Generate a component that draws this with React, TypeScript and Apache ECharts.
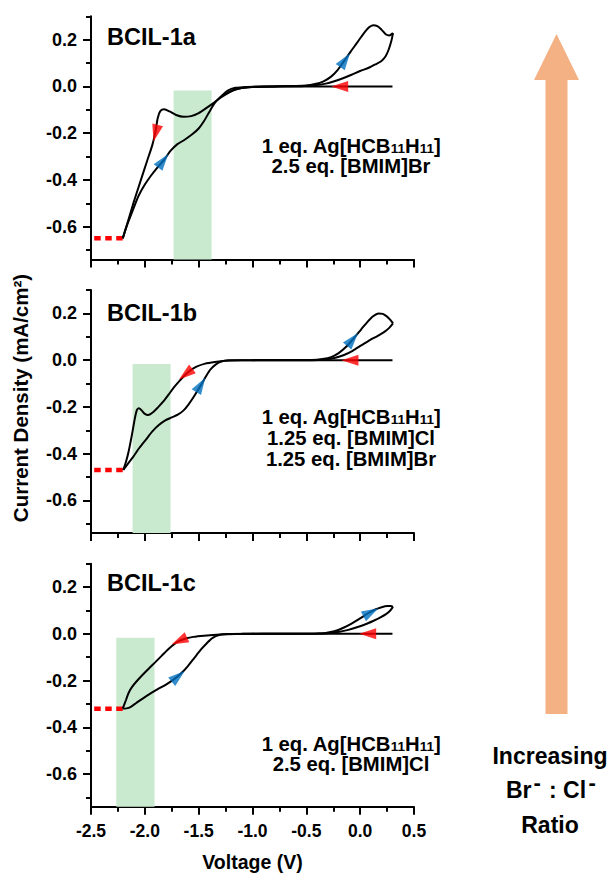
import React, { useEffect, useRef } from 'react';
import * as echarts from 'echarts';

const FONT = '"Liberation Sans", Arial, Helvetica, sans-serif';

// ---------- axes ----------
const X_MIN = -2.5;
const X_MAX = 0.5;
const X_STEP = 0.5;
const Y_MIN = -0.74;
const Y_MAX = 0.3;
const Y_LABEL_VALUES = [-0.6, -0.4, -0.2, 0, 0.2];
const Y_MINOR_VALUES = [-0.7, -0.5, -0.3, -0.1, 0.1, 0.3];

// ---------- panel texts ----------
const panelNames = ['BCIL-1a', 'BCIL-1b', 'BCIL-1c'];
const compositionLines = [
  ['2.5 eq. [BMIM]Br'],
  ['1.25 eq. [BMIM]Cl', '1.25 eq. [BMIM]Br'],
  ['2.5 eq. [BMIM]Cl'],
];

// ---------- BCIL-1a ----------
const cathodic1a = [
  [0.3, 0], [-0.2, 0], [-0.6, 0], [-0.9, -0.001], [-1.05, -0.004], [-1.15, -0.012], [-1.22, -0.026],
  [-1.29, -0.046], [-1.35, -0.067], [-1.43, -0.093], [-1.5, -0.114], [-1.57, -0.127], [-1.64, -0.13],
  [-1.71, -0.122], [-1.77, -0.107], [-1.82, -0.098], [-1.855, -0.105], [-1.88, -0.135], [-1.9, -0.19],
  [-1.93, -0.25], [-1.98, -0.32], [-2.04, -0.405], [-2.1, -0.49], [-2.155, -0.575], [-2.205, -0.65],
];
const anodic1a = [
  [-2.205, -0.65], [-2.17, -0.6], [-2.12, -0.54], [-2.06, -0.47], [-2.0, -0.42], [-1.94, -0.38],
  [-1.88, -0.345], [-1.82, -0.313], [-1.76, -0.275], [-1.7, -0.248], [-1.63, -0.228], [-1.56, -0.205],
  [-1.5, -0.18], [-1.45, -0.148], [-1.4, -0.108], [-1.35, -0.07], [-1.29, -0.042], [-1.23, -0.018],
  [-1.16, -0.006], [-1.05, -0.002], [-0.8, 0], [-0.5, 0.004], [-0.42, 0.01], [-0.34, 0.022],
  [-0.27, 0.042], [-0.21, 0.07], [-0.15, 0.108], [-0.09, 0.148], [-0.03, 0.186], [0.03, 0.225],
  [0.08, 0.252], [0.12, 0.262], [0.16, 0.258], [0.2, 0.242], [0.24, 0.222], [0.27, 0.218], [0.305, 0.228],
];
const return1a = [
  [0.305, 0.228], [0.29, 0.195], [0.265, 0.158], [0.235, 0.128], [0.195, 0.108], [0.14, 0.094],
  [0.08, 0.08], [0.0, 0.066], [-0.08, 0.05], [-0.16, 0.035], [-0.24, 0.022], [-0.32, 0.012],
  [-0.42, 0.005], [-0.55, 0.001], [-0.8, 0], [-1.0, -0.002], [-1.1, -0.007], [-1.18, -0.016], [-1.25, -0.033],
];

// ---------- BCIL-1b ----------
const cathodic1b = [
  [0.3, 0], [-0.3, 0], [-0.8, 0], [-1.1, -0.001], [-1.25, -0.003], [-1.35, -0.008], [-1.44, -0.015],
  [-1.52, -0.028], [-1.58, -0.045], [-1.63, -0.066], [-1.68, -0.09], [-1.73, -0.117], [-1.78, -0.148],
  [-1.83, -0.178], [-1.88, -0.203], [-1.93, -0.225], [-1.97, -0.235], [-2.0, -0.23], [-2.03, -0.215],
  [-2.055, -0.206], [-2.075, -0.215], [-2.095, -0.255], [-2.12, -0.32], [-2.15, -0.39], [-2.175, -0.435],
  [-2.2, -0.47],
];
const anodic1b = [
  [-2.2, -0.47], [-2.16, -0.445], [-2.11, -0.415], [-2.05, -0.375], [-1.99, -0.34], [-1.93, -0.305],
  [-1.87, -0.278], [-1.81, -0.258], [-1.75, -0.245], [-1.69, -0.232], [-1.64, -0.215], [-1.595, -0.19],
  [-1.55, -0.16], [-1.51, -0.13], [-1.47, -0.1], [-1.43, -0.068], [-1.39, -0.04], [-1.34, -0.018],
  [-1.29, -0.006], [-1.22, -0.001], [-1.0, 0], [-0.45, 0.001], [-0.35, 0.005], [-0.27, 0.013],
  [-0.2, 0.03], [-0.13, 0.057], [-0.06, 0.093], [0.01, 0.132], [0.07, 0.165], [0.12, 0.188],
  [0.17, 0.2], [0.21, 0.198], [0.25, 0.186], [0.28, 0.172], [0.305, 0.157],
];
const return1b = [
  [0.305, 0.157], [0.27, 0.138], [0.225, 0.121], [0.16, 0.103], [0.09, 0.086], [0.01, 0.063],
  [-0.07, 0.04], [-0.15, 0.022], [-0.23, 0.01], [-0.32, 0.003], [-0.45, 0], [-0.7, 0], [-1.0, 0],
];

// ---------- BCIL-1c ----------
const cathodic1c = [
  [0.3, 0], [-0.4, 0], [-0.9, 0], [-1.15, -0.001], [-1.3, -0.003], [-1.45, -0.008], [-1.55, -0.013],
  [-1.62, -0.02], [-1.68, -0.03], [-1.73, -0.045], [-1.78, -0.065], [-1.84, -0.092], [-1.9, -0.12],
  [-1.96, -0.147], [-2.02, -0.175], [-2.08, -0.205], [-2.12, -0.228], [-2.15, -0.252], [-2.175, -0.283],
  [-2.205, -0.32],
];
const anodic1c = [
  [-2.205, -0.32], [-2.17, -0.319], [-2.13, -0.312], [-2.08, -0.296], [-2.02, -0.277], [-1.95, -0.256],
  [-1.88, -0.237], [-1.8, -0.216], [-1.73, -0.195], [-1.66, -0.168], [-1.6, -0.138], [-1.54, -0.103],
  [-1.48, -0.068], [-1.42, -0.038], [-1.37, -0.017], [-1.31, -0.005], [-1.23, -0.001], [-1.0, 0],
  [-0.4, 0.001], [-0.32, 0.004], [-0.24, 0.011], [-0.16, 0.025], [-0.08, 0.044], [0.0, 0.066],
  [0.07, 0.087], [0.14, 0.104], [0.2, 0.114], [0.25, 0.119], [0.285, 0.119], [0.305, 0.115],
];
const return1c = [
  [0.305, 0.115], [0.28, 0.1], [0.24, 0.084], [0.18, 0.068], [0.12, 0.055], [0.05, 0.041],
  [-0.03, 0.028], [-0.11, 0.017], [-0.19, 0.009], [-0.28, 0.004], [-0.38, 0.001], [-0.5, 0],
  [-0.8, 0], [-1.1, 0],
];

const curves = [
  [cathodic1a, anodic1a, return1a],
  [cathodic1b, anodic1b, return1b],
  [cathodic1c, anodic1c, return1c],
];

// switching point (dotted red guide) per panel: [start V, end V, current]
const switchGuides = [
  [-2.47, -2.205, -0.65],
  [-2.47, -2.2, -0.47],
  [-2.47, -2.205, -0.32],
];

// shaded green bands: [V start, V end, upper current]
const greenBands = [
  [-1.733, -1.38, -0.017],
  [-2.114, -1.761, -0.017],
  [-2.265, -1.91, -0.017],
];

// direction arrows on the curves: [V, I, direction angle in degrees]
const redArrows = [
  [[-0.19, 0, 180], [-1.9, -0.2, 256]],
  [[-0.095, 0, 180], [-1.62, -0.06, 218]],
  [[0.07, 0, 180], [-1.68, -0.03, 205]],
];
const blueArrows = [
  [[-1.83, -0.318, 53], [-0.14, 0.112, 55]],
  [[-1.48, -0.106, 58], [-0.07, 0.088, 50]],
  [[-1.69, -0.182, 40], [0.1, 0.092, 28]],
];

// ---------- layout ----------
const GRID_LEFT = 91;
const GRID_WIDTH = 323;
const GRID_TOPS = [16.3, 290, 563.7];
const GRID_HEIGHT = 243.1;

const axisColor = '#000';

function buildOption() {
  const grids = GRID_TOPS.map((t) => ({
    left: GRID_LEFT,
    top: t,
    width: GRID_WIDTH,
    height: GRID_HEIGHT,
    containLabel: false,
    outerBoundsMode: 'none',
  }));

  const xAxes = GRID_TOPS.map((_, i) => ({
    gridIndex: i,
    type: 'value',
    min: X_MIN,
    max: X_MAX,
    interval: X_STEP,
    axisLine: { show: true, onZero: false, lineStyle: { color: axisColor, width: 2 } },
    axisTick: { show: true, inside: false, length: 8, lineStyle: { color: axisColor, width: 2 } },
    minorTick: { show: true, splitNumber: 2, length: 5, lineStyle: { color: axisColor, width: 2 } },
    splitLine: { show: false },
    minorSplitLine: { show: false },
    axisLabel: {
      show: i === 2,
      margin: 15,
      color: '#000',
      fontSize: 17.5,
      fontWeight: 'bold',
      fontFamily: FONT,
      formatter: (v: number) => v.toFixed(1),
    },
  }));

  const yAxes: any[] = [];
  GRID_TOPS.forEach((_, i) => {
    yAxes.push({
      gridIndex: i,
      type: 'value',
      position: 'left',
      min: Y_MIN,
      max: Y_MAX,
      axisLine: { show: true, onZero: false, lineStyle: { color: axisColor, width: 2 } },
      axisTick: { show: true, length: 8, customValues: Y_LABEL_VALUES, lineStyle: { color: axisColor, width: 2 } },
      axisLabel: {
        customValues: Y_LABEL_VALUES,
        margin: 14,
        color: '#000',
        fontSize: 18,
        fontWeight: 'bold',
        fontFamily: FONT,
        formatter: (v: number) => v.toFixed(1),
      },
      splitLine: { show: false },
    });
    yAxes.push({
      gridIndex: i,
      type: 'value',
      position: 'left',
      min: Y_MIN,
      max: Y_MAX,
      axisLine: { show: false, onZero: false },
      axisTick: { show: true, length: 5, customValues: Y_MINOR_VALUES, lineStyle: { color: axisColor, width: 2 } },
      axisLabel: { show: false },
      splitLine: { show: false },
    });
  });

  const series: any[] = [];
  curves.forEach((segs, i) => {
    const [gs, ge, gt] = greenBands[i];
    const [ds, de, di] = switchGuides[i];
    series.push({
      type: 'line',
      xAxisIndex: i,
      yAxisIndex: 2 * i,
      data: [[ds, di], [de, di]],
      symbol: 'none',
      z: 2,
      lineStyle: { color: '#ff0000', width: 4.5, type: [6.5, 4.5] },
      markArea: {
        silent: true,
        z: 1,
        itemStyle: { color: '#c9eacf' },
        data: [[{ coord: [gs, gt] }, { coord: [ge, Y_MIN] }]],
      },
    });
    segs.forEach((seg) => {
      series.push({
        type: 'line',
        xAxisIndex: i,
        yAxisIndex: 2 * i,
        data: seg,
        symbol: 'none',
        smooth: 0.25,
        z: 3,
        lineStyle: { color: '#000', width: 2 },
      });
    });
    series.push({
      type: 'scatter',
      xAxisIndex: i,
      yAxisIndex: 2 * i,
      symbol: 'triangle',
      symbolSize: [11, 17],
      z: 4,
      itemStyle: { color: '#ff0000' },
      data: redArrows[i].map((a) => ({ value: [a[0], a[1]], symbolRotate: a[2] - 90 })),
    });
    series.push({
      type: 'scatter',
      xAxisIndex: i,
      yAxisIndex: 2 * i,
      symbol: 'triangle',
      symbolSize: [11, 17],
      z: 4,
      itemStyle: { color: '#0070c0' },
      data: blueArrows[i].map((a) => ({ value: [a[0], a[1]], symbolRotate: a[2] - 90 })),
    });
  });

  const textBase = (fontSize: number) => ({
    fontSize,
    fontWeight: 'bold',
    fontFamily: FONT,
    fill: '#000',
  });
  const txt = (x: number, y: number, text: string, size: number, align = 'center', extra: any = {}) => ({
    type: 'text',
    x,
    y,
    ...extra,
    style: { ...textBase(size), text, align, verticalAlign: 'middle', textAlign: align, textVerticalAlign: 'middle' },
  });

  const panelLabelY = [36.7, 312.7, 582.7];
  const annotationY = [156, 438, 754];

  const graphics: any[] = [];
  panelNames.forEach((name, i) => {
    graphics.push(txt(107, panelLabelY[i], name, 23.5, 'left'));
    const firstLine = '{m|1 eq. Ag[HCB}{s|11}{m|H}{s|11}{m|]}';
    const rest = compositionLines[i].map((l) => `{m|${l}}`);
    graphics.push({
      type: 'text',
      x: 351,
      y: annotationY[i],
      style: {
        text: [firstLine, ...rest].join('\n'),
        align: 'center',
        verticalAlign: 'middle',
        textAlign: 'center',
        textVerticalAlign: 'middle',
        lineHeight: 20.7,
        ...textBase(20.3),
        rich: {
          m: { ...textBase(20.3), lineHeight: 20.7 },
          s: { ...textBase(13.5), lineHeight: 20.7, padding: [5, 0, 0, 0] },
        },
      },
    });
  });

  // axis titles
  graphics.push(txt(20.5, 398, 'Current Density (mA/cm²)', 20.5, 'center', { rotation: Math.PI / 2 }));
  graphics.push(txt(GRID_LEFT + GRID_WIDTH / 2, 862, 'Voltage (V)', 19.5));

  // big arrow
  graphics.push({
    type: 'polygon',
    shape: {
      points: [
        [556.5, 34], [579, 80], [567.5, 80], [567.5, 714], [545.5, 714], [545.5, 80], [534, 80],
      ],
    },
    style: { fill: '#f4b183' },
  });
  graphics.push(txt(550, 756, 'Increasing', 23));
  // "Br⁻ : Cl⁻" assembled from pieces so the superscript minus signs sit above cap height
  graphics.push(txt(506, 790, 'Br', 23, 'left'));
  graphics.push(txt(533.5, 782, '-', 22, 'left'));
  graphics.push(txt(549, 790, ': Cl', 23, 'left'));
  graphics.push(txt(588.5, 782, '-', 22, 'left'));
  graphics.push(txt(550, 824.5, 'Ratio', 23));

  return {
    animation: false,
    backgroundColor: '#ffffff',
    grid: grids,
    xAxis: xAxes,
    yAxis: yAxes,
    series,
    graphic: graphics,
  };
}

export default function App() {
  const ref = useRef<HTMLDivElement>(null);
  useEffect(() => {
    if (!ref.current) return;
    const chart = echarts.init(ref.current, null, { renderer: 'svg' });
    chart.setOption(buildOption() as any);
    return () => {
      chart.dispose();
    };
  }, []);
  return (
    <div
      ref={ref}
      style={{ position: 'fixed', left: 0, top: 0, width: 615, height: 873, background: '#fff' }}
    />
  );
}
